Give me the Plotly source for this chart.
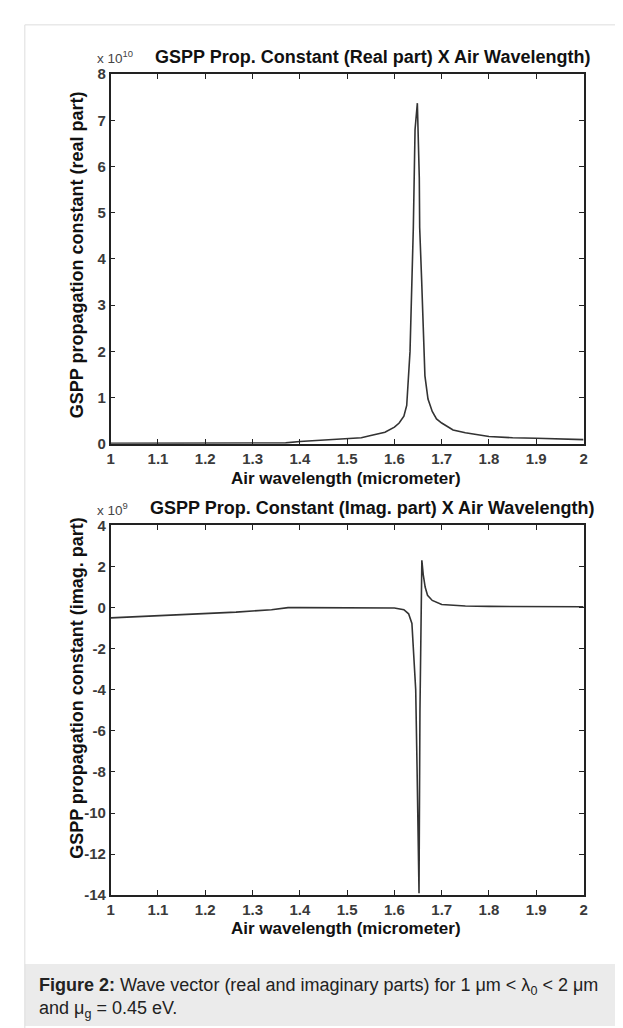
import plotly.graph_objects as go

# ---- data ----
wl_real = [1.00, 1.05, 1.10, 1.15, 1.20, 1.25, 1.30, 1.35, 1.37, 1.40, 1.45, 1.50, 1.53,
           1.55, 1.58, 1.60, 1.61, 1.62, 1.626, 1.633, 1.637, 1.640, 1.6436, 1.6485,
           1.6526, 1.6534, 1.6576, 1.661, 1.6645, 1.671, 1.680, 1.689, 1.700, 1.724,
           1.750, 1.800, 1.850, 1.900, 1.950, 2.000]
beta_real_e10 = [0.01, 0.01, 0.01, 0.01, 0.01, 0.01, 0.01, 0.015, 0.02, 0.05, 0.08, 0.12, 0.13,
                 0.18, 0.25, 0.36, 0.45, 0.60, 0.83, 2.0, 3.35, 4.68, 6.8, 7.37,
                 5.75, 4.68, 3.53, 2.25, 1.47, 0.97, 0.70, 0.54, 0.45, 0.30,
                 0.24, 0.16, 0.13, 0.12, 0.10, 0.09]

wl_imag = [1.00, 1.05, 1.11, 1.19, 1.265, 1.34, 1.36, 1.375, 1.40, 1.50, 1.60, 1.62, 1.63,
           1.637, 1.640, 1.645, 1.648, 1.650, 1.652, 1.654, 1.656, 1.658, 1.661, 1.665,
           1.670, 1.680, 1.700, 1.750, 1.800, 1.900, 2.000]
beta_imag_e9 = [-0.50, -0.45, -0.39, -0.33, -0.22, -0.10, -0.04, 0.0, 0.0, 0.0, -0.02, -0.10, -0.30,
                -0.77, -1.9, -4.0, -8.0, -12.5, -13.9, -5.0, 0.5, 2.3, 1.6, 1.0,
                0.6, 0.35, 0.15, 0.08, 0.06, 0.05, 0.04]

x_ticks = [1, 1.1, 1.2, 1.3, 1.4, 1.5, 1.6, 1.7, 1.8, 1.9, 2]
x_ticktext = ["1", "1.1", "1.2", "1.3", "1.4", "1.5", "1.6", "1.7", "1.8", "1.9", "2"]
y1_ticks = [0, 1, 2, 3, 4, 5, 6, 7, 8]
y1_ticktext = ["0", "1", "2", "3", "4", "5", "6", "7", "8"]
y2_ticks = [4, 2, 0, -2, -4, -6, -8, -10, -12, -14]
y2_ticktext = ["4", "2", "0", "-2", "-4", "-6", "-8", "-10", "-12", "-14"]

W, H = 623, 1028
def px(x): return x / W
def py(y): return 1 - y / H

FONT = "Liberation Sans, Arial, sans-serif"
LINE = "#333333"

fig = go.Figure()
fig.add_trace(go.Scatter(x=wl_real, y=beta_real_e10, mode="lines",
                         line=dict(color=LINE, width=1.6), xaxis="x", yaxis="y", showlegend=False))
fig.add_trace(go.Scatter(x=wl_imag, y=beta_imag_e9, mode="lines",
                         line=dict(color=LINE, width=1.6), xaxis="x2", yaxis="y2", showlegend=False))

axis_common = dict(showline=True, linecolor="#222", linewidth=1.5, mirror="ticks",
                   ticks="inside", ticklen=5, tickcolor="#222", tickwidth=1.2,
                   showgrid=False, zeroline=False,
                   tickfont=dict(family=FONT, size=15, color="#3a3a3a", weight="bold"))

fig.update_layout(
    width=W, height=H, margin=dict(l=0, r=0, t=0, b=0),
    paper_bgcolor="white", plot_bgcolor="white",
    xaxis=dict(domain=[px(100), px(579)], range=[1, 2], tickvals=x_ticks, ticktext=x_ticktext,
               anchor="y", **axis_common),
    yaxis=dict(domain=[py(434), py(58)], range=[0, 8], tickvals=y1_ticks, ticktext=y1_ticktext,
               anchor="x", **axis_common),
    xaxis2=dict(domain=[px(100), px(579)], range=[1, 2], tickvals=x_ticks, ticktext=x_ticktext,
                anchor="y2", **axis_common),
    yaxis2=dict(domain=[py(893), py(517)], range=[-14, 4], tickvals=y2_ticks, ticktext=y2_ticktext,
                anchor="x2", **axis_common),
)

shapes = [
    # outer light frame
    dict(type="line", xref="paper", yref="paper", x0=px(13), x1=px(13), y0=0, y1=py(8),
         line=dict(color="#dddddd", width=1)),
    dict(type="line", xref="paper", yref="paper", x0=px(13), x1=1, y0=py(8), y1=py(8),
         line=dict(color="#dddddd", width=1)),
    # caption band
    dict(type="rect", xref="paper", yref="paper", x0=px(13), x1=1, y0=py(1026), y1=py(963),
         fillcolor="#ebebeb", line=dict(width=0), layer="below"),
]
fig.update_layout(shapes=shapes)

title_font = dict(family=FONT, size=18, color="#111")
axt_font = dict(family=FONT, size=17, color="#111")
yt_font = dict(family=FONT, size=18, color="#111")
ann = [
    dict(text="<b>GSPP Prop. Constant (Real part) X Air Wavelength)</b>", x=px(365), y=py(41), font=title_font),
    dict(text="<b>GSPP Prop. Constant (Imag. part) X Air Wavelength)</b>", x=px(365), y=py(499), font=title_font),
    dict(text="<b>Air wavelength (micrometer)</b>", x=px(338), y=py(469), font=axt_font),
    dict(text="<b>Air wavelength (micrometer)</b>", x=px(338), y=py(927), font=axt_font),
    dict(text="<b>GSPP propagation constant (real part)</b>", x=px(66), y=py(242), textangle=-90, font=yt_font),
    dict(text="<b>GSPP propagation constant (imag. part)</b>", x=px(66), y=py(682), textangle=-90, font=yt_font),
]
annotations = []
for a in ann:
    d = dict(xref="paper", yref="paper", showarrow=False, xanchor="center", yanchor="middle")
    d.update(a)
    annotations.append(d)

small = dict(family=FONT, size=13.5, color="#444")
annotations.append(dict(text="x 10<sup>10</sup>", x=px(84), y=py(52), xref="paper", yref="paper",
                        showarrow=False, font=small, xanchor="left", yanchor="bottom"))
annotations.append(dict(text="x 10<sup>9</sup>", x=px(84), y=py(511), xref="paper", yref="paper",
                        showarrow=False, font=small, xanchor="left", yanchor="bottom"))
annotations.append(dict(
    text="<b>Figure 2:</b> Wave vector (real and imaginary parts) for 1 μm &lt; λ<sub>0</sub> &lt; 2 μm"
         "<br>and μ<sub>g</sub> = 0.45 eV.",
    x=px(25), y=py(998), xref="paper", yref="paper", showarrow=False,
    font=dict(family=FONT, size=18, color="#222"), xanchor="left", yanchor="middle", align="left"))
fig.update_layout(annotations=annotations)

fig.write_html("out.html")
